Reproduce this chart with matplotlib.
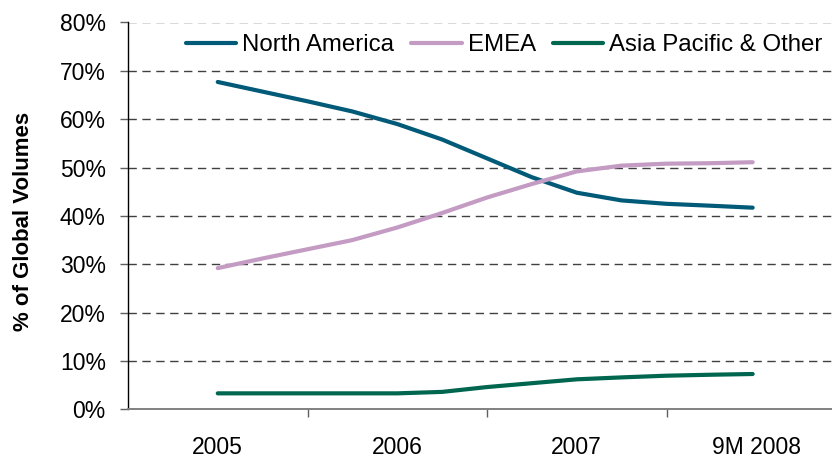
import matplotlib
matplotlib.use("Agg")
import matplotlib.pyplot as plt
from matplotlib.ticker import FixedLocator, PercentFormatter

plt.rcParams['font.family'] = ['Liberation Sans', 'DejaVu Sans']

# Data (quarterly points, x in category units: 0 = 2005 ... 3 = 9M 2008)
categories = ["2005", "2006", "2007", "9M 2008"]
quarters = [0.0, 0.25, 0.5, 0.75, 1.0, 1.25, 1.5, 1.75, 2.0, 2.25, 2.5, 2.75, 2.98]
north_america = [67.7, 65.7, 63.7, 61.6, 59.0, 55.8, 51.9, 48.0, 44.8, 43.2, 42.5, 42.1, 41.7]
emea = [29.2, 31.2, 33.1, 35.0, 37.6, 40.6, 43.8, 46.6, 49.2, 50.4, 50.8, 50.9, 51.1]
asia_pacific = [3.3, 3.3, 3.3, 3.3, 3.3, 3.6, 4.6, 5.4, 6.2, 6.6, 6.95, 7.15, 7.3]
series_names = ["North America", "EMEA", "Asia Pacific & Other"]
y_ticks = [0, 10, 20, 30, 40, 50, 60, 70, 80]

colors = ["#005A78", "#C39BC3", "#00664F"]

fig = plt.figure(figsize=(8.32, 4.58), dpi=100)
W, H = 832, 458
ax = fig.add_axes([128 / W, (H - 409.3) / H, (W - 128) / W, (409.3 - 22.5) / H])

for vals, name, c in zip([north_america, emea, asia_pacific], series_names, colors):
    ax.plot(quarters, vals, color=c, lw=3.0, label=name, solid_capstyle='round',
            solid_joinstyle='round', zorder=3)

ax.yaxis.set_major_locator(FixedLocator(y_ticks))
ax.yaxis.set_major_formatter(PercentFormatter(decimals=0))
for yv in y_ticks[1:]:
    ax.axhline(yv, color="#404040", lw=1.0, dashes=(6, 4), zorder=1)

ax.set_xticks(range(len(categories)))
ax.set_xticklabels(categories)
ax.set_xticks([0.5, 1.5, 2.5], minor=True)
ax.set_ylim(0, 80)
ax.set_xlim(-0.5, -0.5 + (W - 128) / 179.5)
ax.tick_params(axis='x', which='major', length=0, pad=19, labelsize=16.5)
ax.tick_params(axis='x', which='minor', length=6, width=1.0, color="#606060", direction='out')
ax.tick_params(axis='y', which='major', length=6, width=1.0, color="#606060", pad=10, labelsize=16.5)

for s in ['top', 'right']:
    ax.spines[s].set_visible(False)
ax.spines['left'].set_color('black')
ax.spines['left'].set_linewidth(1.0)
ax.spines['bottom'].set_color('#808080')
ax.spines['bottom'].set_linewidth(1.4)

fig.text(24 / W, 1 - 221 / H, "% of Global Volumes", rotation=90, fontsize=16,
         fontweight='bold', ha='center', va='center')

ax.legend(loc='center left', bbox_to_anchor=((186 - 128) / (W - 128), (409.3 - 45) / (409.3 - 22.5)),
          ncol=3, frameon=False, fontsize=17.3, borderpad=0, borderaxespad=0,
          handlelength=2.1, handletextpad=0.25, columnspacing=0.7)

fig.savefig("out.png", dpi=100)
